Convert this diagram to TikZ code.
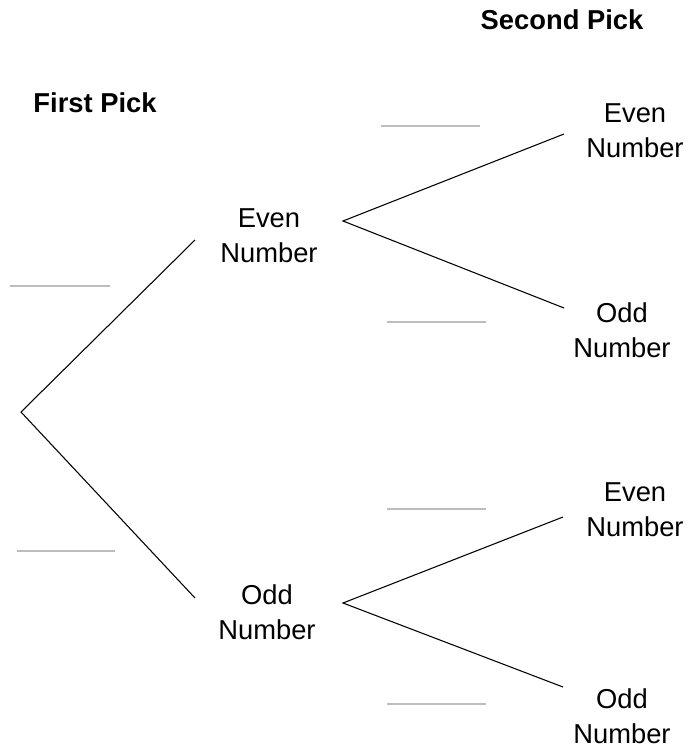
\documentclass[tikz,border=0pt]{standalone}
\usepackage{fontspec}
\setmainfont{Liberation Sans}
\usepackage{tikz}
\tikzset{
    outcome/.style = {
        align=center,
        font=\fontsize{20.5}{26}\selectfont,
        inner sep=0pt,
    },
    heading/.style = {
        font=\fontsize{20.5}{26}\selectfont\bfseries,
        inner sep=0pt,
    },
    branch/.style = {
        line width=0.8pt,
        black,
    },
    blank/.style = {
        line width=2.2pt,
        color=black!26,
    },
}

\begin{document}
\begin{tikzpicture}[x=0.75pt,y=-0.75pt]
        \useasboundingbox (0,0) rectangle (687,750);

        \node [heading] (firstPick) at (95,103) {First Pick};
        \node [heading] (secondPick) at (562,20) {Second Pick};

        \node [outcome] (even) at (269,236) {Even\\Number};
        \node [outcome] (odd) at (267,612) {Odd\\Number};

        \node [outcome] (evenEven) at (635,131) {Even\\Number};
        \node [outcome] (evenOdd) at (622,330) {Odd\\Number};
        \node [outcome] (oddEven) at (635,510) {Even\\Number};
        \node [outcome] (oddOdd) at (622,716) {Odd\\Number};

        % branch points
        \coordinate (root) at (21,412);
        \coordinate (evenTip) at (195,240);
        \coordinate (oddTip) at (195,598);
        \coordinate (evenFork) at (343,221);
        \coordinate (oddFork) at (343,603);
        \coordinate (evenEvenTip) at (564,134);
        \coordinate (evenOddTip) at (564,308);
        \coordinate (oddEvenTip) at (563,517);
        \coordinate (oddOddTip) at (563,687);

        \draw [branch] (evenTip) -- (root) -- (oddTip);
        \draw [branch] (evenEvenTip) -- (evenFork) -- (evenOddTip);
        \draw [branch] (oddEvenTip) -- (oddFork) -- (oddOddTip);

        % blanks for the probabilities
        \draw [blank] (10,286) -- (110,286);
        \draw [blank] (17,551) -- (115,551);
        \draw [blank] (381,126) -- (480,126);
        \draw [blank] (387,322) -- (486,322);
        \draw [blank] (387,509) -- (486,509);
        \draw [blank] (387,704) -- (486,704);

    \end{tikzpicture}
\end{document}
